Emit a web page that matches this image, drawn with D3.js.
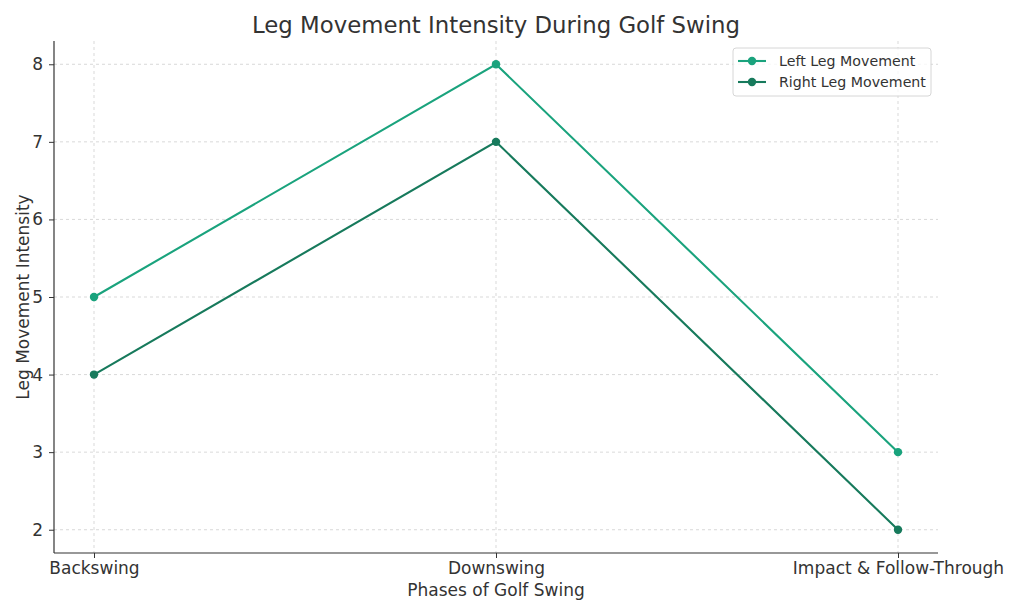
<!DOCTYPE html>
<html><head><meta charset="utf-8">
<script src="https://cdn.jsdelivr.net/npm/d3@7"></script>
<style>body{margin:0;background:#fff}svg{display:block;font-family:"DejaVu Sans",sans-serif}</style>
</head><body><svg id="c" width="1024" height="614"></svg>
<script>
const phases = ["Backswing","Downswing","Impact & Follow-Through"];
const leftLeg = [5,8,3];
const rightLeg = [4,7,2];
const yTicks = [2,3,4,5,6,7,8];
const seriesNames = ["Left Leg Movement","Right Leg Movement"];
const colors = ["#1aa37d","#177a5c"];

const svg = d3.select("#c");
const L=54,R=938,T=41,B=553;
const x = d3.scalePoint().domain(phases).range([94,898]);
const y = d3.scaleLinear().domain([1.7,8.3]).range([B,T]);
const txt="#333";

// grid
const g = svg.append("g");
g.selectAll(".gy").data(yTicks).enter().append("line")
 .attr("x1",L).attr("x2",R).attr("y1",d=>y(d)).attr("y2",d=>y(d))
 .attr("stroke","#cfcfcf").attr("stroke-width",0.8).attr("stroke-dasharray","3,3");
g.selectAll(".gx").data(phases).enter().append("line")
 .attr("x1",d=>x(d)).attr("x2",d=>x(d)).attr("y1",T).attr("y2",B)
 .attr("stroke","#cfcfcf").attr("stroke-width",0.8).attr("stroke-dasharray","3,3");

// axes
const xa = svg.append("g").attr("transform",`translate(0,${B})`)
 .call(d3.axisBottom(x).tickSize(5).tickPadding(4));
xa.select(".domain").attr("d",`M${L},0H${R}`);
const ya = svg.append("g").attr("transform",`translate(${L},0)`)
 .call(d3.axisLeft(y).tickValues(yTicks).tickFormat(d3.format("d")).tickSize(5).tickPadding(6));
ya.select(".domain").attr("d",`M0,${T}V${B}`);
[xa,ya].forEach(a=>{
 a.select(".domain").attr("stroke","#333").attr("stroke-width",1.2);
 a.selectAll(".tick line").attr("stroke","#333").attr("stroke-width",1);
 a.selectAll(".tick text").attr("fill",txt).attr("font-size","17px").attr("font-family","DejaVu Sans");
});

// lines
const line = d3.line().x((d,i)=>x(phases[i])).y(d=>y(d));
[leftLeg,rightLeg].forEach((s,k)=>{
 svg.append("path").datum(s).attr("d",line).attr("fill","none")
  .attr("stroke",colors[k]).attr("stroke-width",2.1);
 svg.selectAll(".p"+k).data(s).enter().append("circle")
  .attr("cx",(d,i)=>x(phases[i])).attr("cy",d=>y(d)).attr("r",4.2).attr("fill",colors[k]);
});

// title and labels
svg.append("text").attr("x",496).attr("y",33).attr("text-anchor","middle")
 .attr("font-size","22.8px").attr("fill",txt).text("Leg Movement Intensity During Golf Swing");
svg.append("text").attr("x",496).attr("y",596).attr("text-anchor","middle")
 .attr("font-size","17px").attr("fill",txt).text("Phases of Golf Swing");
svg.append("text").attr("transform","translate(29,297) rotate(-90)").attr("text-anchor","middle")
 .attr("font-size","17px").attr("fill",txt).text("Leg Movement Intensity");

// legend
const lg = svg.append("g");
lg.append("rect").attr("x",733).attr("y",48).attr("width",198).attr("height",48).attr("rx",3)
 .attr("fill","#fff").attr("fill-opacity",0.8).attr("stroke","#d6d6d6");
seriesNames.forEach((n,k)=>{
 const yy=61+k*21;
 lg.append("line").attr("x1",738).attr("x2",766).attr("y1",yy).attr("y2",yy).attr("stroke",colors[k]).attr("stroke-width",2.1);
 lg.append("circle").attr("cx",752).attr("cy",yy).attr("r",4.2).attr("fill",colors[k]);
 lg.append("text").attr("x",779).attr("y",yy+5).attr("font-size","14.2px").attr("fill",txt).text(n);
});
</script></body></html>
